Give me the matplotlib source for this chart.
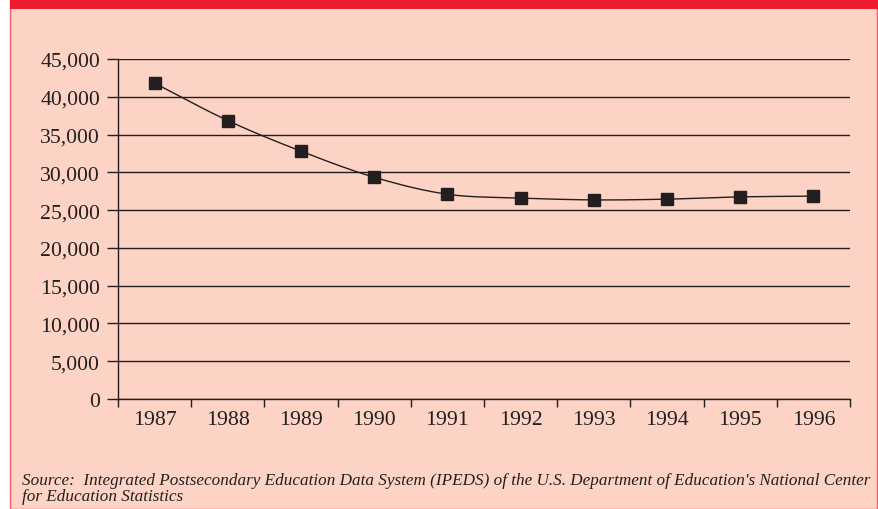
import numpy as np
import matplotlib
matplotlib.use("Agg")
import matplotlib.pyplot as plt
from matplotlib.patches import Rectangle
from matplotlib.ticker import FuncFormatter, FixedLocator

years = ["1987", "1988", "1989", "1990", "1991", "1992", "1993", "1994", "1995", "1996"]
values = [41800, 36850, 32800, 29350, 27100, 26600, 26350, 26450, 26750, 26850]
yticks = [0, 5000, 10000, 15000, 20000, 25000, 30000, 35000, 40000, 45000]
source_text = ("Source:  Integrated Postsecondary Education Data System (IPEDS) of the U.S. Department of "
               "Education's National Center\nfor Education Statistics")

PINK = "#FDD3C6"
RED = "#EE1C2E"
INK = "#231F20"

W, H = 879, 510
fig = plt.figure(figsize=(W / 100, H / 100), dpi=100)
fig.patch.set_facecolor("white")

# background panel and red band (figure pixel coords)
fig.patches.append(Rectangle((10 / W, 0), 867 / W, 1, transform=fig.transFigure,
                             facecolor=PINK, edgecolor="#F06070", linewidth=1.0, zorder=-2))
fig.patches.append(Rectangle((10 / W, (H - 10) / H), (W - 10) / W, 10 / H, transform=fig.transFigure,
                             facecolor=RED, edgecolor="none", zorder=-1))

ax = fig.add_axes([118 / W, (H - 400) / H, (850 - 118) / W, 340 / H])
ax.set_zorder(5)
ax.set_facecolor("none")

x = np.arange(len(values))
y = np.array(values, dtype=float)

# smoothed line (Catmull-Rom through the data points)
pts = np.column_stack([x, y])
ext = np.vstack([2 * pts[0] - pts[1], pts, 2 * pts[-1] - pts[-2]])
curve = []
t = np.linspace(0, 1, 30)[:, None]
for i in range(1, len(ext) - 2):
    p0, p1, p2, p3 = ext[i - 1], ext[i], ext[i + 1], ext[i + 2]
    seg = 0.5 * ((2 * p1) + (-p0 + p2) * t + (2 * p0 - 5 * p1 + 4 * p2 - p3) * t ** 2
                 + (-p0 + 3 * p1 - 3 * p2 + p3) * t ** 3)
    curve.append(seg)
curve = np.vstack(curve)
ax.plot(curve[:, 0], curve[:, 1], color=INK, lw=1.0, zorder=3)
ax.plot(x, y, linestyle="none", marker="s", markersize=9, color=INK, zorder=4)

ax.set_xlim(-0.5, len(values) - 0.5)
ax.set_ylim(0, 45000)
ax.set_yticks(yticks)
ax.yaxis.set_major_formatter(FuncFormatter(lambda v, p: f"{int(v):,}"))
ax.grid(axis="y", color=INK, lw=1.0, zorder=1)
ax.set_axisbelow(True)

ax.set_xticks(x)
ax.set_xticklabels(years)
ax.xaxis.set_minor_locator(FixedLocator(np.arange(-0.5, len(values), 1.0)))
ax.tick_params(axis="x", which="major", length=0, pad=8)
ax.tick_params(axis="x", which="minor", length=6, width=1.0, color=INK, direction="out")
ax.tick_params(axis="y", length=8, width=1.0, color=INK, direction="out", pad=5)

for lbl in ax.get_xticklabels() + ax.get_yticklabels():
    lbl.set_fontfamily("Liberation Serif")
    lbl.set_fontsize(15.7)
    lbl.set_color(INK)

for s in ["top", "right"]:
    ax.spines[s].set_visible(False)
for s in ["left", "bottom"]:
    ax.spines[s].set_color(INK)
    ax.spines[s].set_linewidth(1.0)

fig.text(22 / W, 1 - 473 / H, source_text, ha="left", va="top", fontfamily="Liberation Serif",
         fontstyle="italic", fontsize=12.3, color=INK, linespacing=1.0)

fig.savefig("out.png", dpi=100, facecolor=fig.get_facecolor())
